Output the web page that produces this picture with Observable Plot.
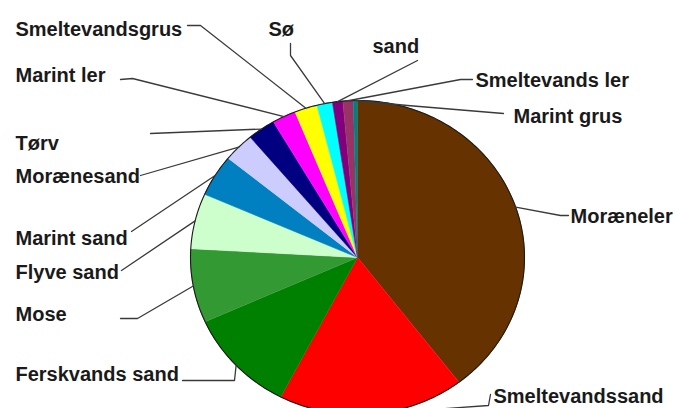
<!DOCTYPE html>
<html>
<head>
<meta charset="utf-8">
<script src="https://cdn.jsdelivr.net/npm/d3@7"></script>
<script src="https://cdn.jsdelivr.net/npm/@observablehq/plot@0.6"></script>
<style>
  html, body { margin: 0; padding: 0; background: #fff; }
  #chart { width: 675px; height: 408px; overflow: hidden; }
</style>
</head>
<body>
<div id="chart"></div>
<script>
// ---- data ----
const names = ["Moræneler", "Smeltevandssand", "Ferskvands sand", "Mose", "Flyve sand", "Marint sand",
  "Morænesand", "Tørv", "Marint ler", "Smeltevandsgrus", "Sø", "sand", "Smeltevands ler", "Marint grus"];
const shares = [39.6, 18.0, 10.7, 7.6, 5.7, 4.3, 3.0, 2.7, 2.3, 2.2, 1.5, 1.0, 1.0, 0.4];
const colors = ["#663300", "#ff0000", "#008000", "#339933", "#ccffcc", "#0080c0",
  "#ccccff", "#000080", "#ff00ff", "#ffff00", "#00ffff", "#800080", "#993366", "#008080"];

// ---- layout (pixels) ----
const W = 675, H = 408;
const cx = 357, cy = 257, rx = 167, ry = 157;
const px = (x) => (x - cx) / rx;
const py = (y) => (cy - y) / ry;
// label centre (x = left edge) and leader elbows, in pixels
const labelLayout = [
  {name: "Moræneler", lx: 570, ly: 216, path: [[560, 215], [568, 215]]},
  {name: "Smeltevandssand", lx: 493, ly: 396, path: [[488, 405], [490, 394]]},
  {name: "Ferskvands sand", lx: 15, ly: 374, path: [[234, 380], [182, 380]]},
  {name: "Mose", lx: 15, ly: 314, path: [[137, 318], [120, 318]]},
  {name: "Flyve sand", lx: 15, ly: 272, path: [[121, 270]]},
  {name: "Marint sand", lx: 15, ly: 238, path: [[131, 231]]},
  {name: "Morænesand", lx: 15, ly: 176, path: [[140, 175]]},
  {name: "Tørv", lx: 15, ly: 143, path: [[150, 133]]},
  {name: "Marint ler", lx: 15, ly: 75, path: [[132, 78], [120, 79]]},
  {name: "Smeltevandsgrus", lx: 15, ly: 29, path: [[200, 25], [187, 25]]},
  {name: "Sø", lx: 268, ly: 29, path: [[290, 55], [290, 43]]},
  {name: "sand", lx: 372, ly: 46, path: [[417, 60]]},
  {name: "Smeltevands ler", lx: 475, ly: 80, path: [[460, 79], [472, 79]]},
  {name: "Marint grus", lx: 513, ly: 116, path: [[407, 105], [503, 113]]}
];

// ---- geometry from data ----
const arcs = d3.pie().sort(null).value(d => d)(shares);
const slicePts = [];
const mids = new Map();
arcs.forEach((a, i) => {
  const name = names[i];
  const n = Math.max(2, Math.ceil((a.endAngle - a.startAngle) / (Math.PI / 360)));
  slicePts.push({name, x: 0, y: 0});
  for (let k = 0; k <= n; k++) {
    const t = a.startAngle + (a.endAngle - a.startAngle) * k / n;
    slicePts.push({name, x: Math.sin(t), y: Math.cos(t)});
  }
  const m = (a.startAngle + a.endAngle) / 2;
  mids.set(name, {x: Math.sin(m), y: Math.cos(m)});
});
const rimPts = d3.range(0, 361).map(d => ({x: Math.sin(d * Math.PI / 180), y: Math.cos(d * Math.PI / 180)}));
const leaderPts = [];
labelLayout.forEach(l => {
  const m = mids.get(l.name);
  leaderPts.push({name: l.name, x: m.x, y: m.y});
  l.path.forEach(([x, y]) => leaderPts.push({name: l.name, x: px(x), y: py(y)}));
});
const labels = labelLayout.map(l => ({name: l.name, x: px(l.lx), y: py(l.ly)}));

const chart = Plot.plot({
  width: W, height: H,
  margin: 0,
  x: {domain: [px(0), px(W)], axis: null},
  y: {domain: [py(H), py(0)], axis: null},
  color: {domain: names, range: colors},
  marks: [
    Plot.line(slicePts, {x: "x", y: "y", z: "name", fill: "name", stroke: "name", strokeWidth: 0.6, curve: "linear"}),
    Plot.line(rimPts, {x: "x", y: "y", stroke: "#1a1a1a", strokeWidth: 1.1}),
    Plot.line(leaderPts, {x: "x", y: "y", z: "name", stroke: "#3a3a3a", strokeWidth: 1.3}),
    Plot.text(labels, {x: "x", y: "y", text: "name", textAnchor: "start", fontSize: 20, fontWeight: "bold",
      fontFamily: "Liberation Sans, Arial, sans-serif", fill: "#1a1a1a"})
  ]
});
document.getElementById("chart").appendChild(chart);
</script>
</body>
</html>
